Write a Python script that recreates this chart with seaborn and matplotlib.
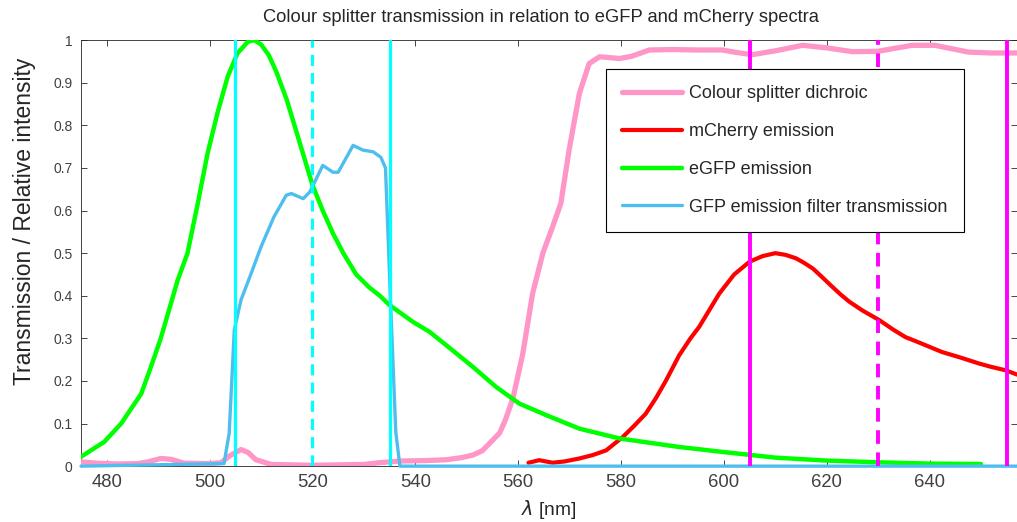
import matplotlib
matplotlib.use("Agg")
import matplotlib.pyplot as plt
import seaborn as sns
import pandas as pd
from matplotlib.ticker import FormatStrFormatter

# ---------------- data ----------------
dichroic_wl = [475, 478, 482, 486, 488, 490.5, 492.5, 495, 500, 502.2, 504, 506.1, 507.5, 509, 512, 520, 530,
               533, 537, 542, 546, 549, 551.2, 553, 554.4, 556.4, 557.5, 559, 560.9, 562.8, 564.8, 566.7, 568.3,
               569.9, 571.9, 573.8, 575.8, 577, 579.7, 582, 585.5, 590, 595, 599.7, 602, 605.5, 610, 615.3, 620,
               625, 630, 636.6, 641, 647.6, 652, 657]
dichroic_t = [0.01, 0.007, 0.005, 0.006, 0.01, 0.018, 0.016, 0.007, 0.006, 0.008, 0.025, 0.039, 0.032, 0.015,
              0.004, 0.002, 0.004, 0.008, 0.012, 0.013, 0.015, 0.02, 0.026, 0.036, 0.053, 0.078, 0.108, 0.16,
              0.264, 0.405, 0.50, 0.562, 0.617, 0.742, 0.875, 0.945, 0.961, 0.96, 0.957, 0.962, 0.977, 0.978,
              0.977, 0.977, 0.972, 0.966, 0.975, 0.988, 0.982, 0.973, 0.974, 0.988, 0.988, 0.972, 0.970, 0.970]

mcherry_wl = [562, 564.1, 566.7, 569, 571.9, 574.5, 577.1, 580.3, 582.5, 584.8, 586.8, 588.7, 591.3, 593.5, 595.2,
              597.2, 599.1, 602, 605, 607.5, 610, 612, 614, 615.5, 617.3, 619, 621, 622.7, 624.4, 627, 630.2, 633,
              635.3, 638, 642.4, 646, 649.6, 652, 654.8, 657]
mcherry_em = [0.008, 0.014, 0.008, 0.011, 0.018, 0.026, 0.037, 0.068, 0.094, 0.123, 0.16, 0.20, 0.26, 0.30,
              0.327, 0.367, 0.405, 0.45, 0.48, 0.493, 0.50, 0.496, 0.488, 0.478, 0.464, 0.445, 0.422, 0.403, 0.386,
              0.365, 0.343, 0.32, 0.303, 0.29, 0.268, 0.255, 0.241, 0.233, 0.225, 0.215]

egfp_wl = [475, 479.5, 482.8, 486.7, 488.5, 490.5, 493.8, 495.7, 497.7, 499.6, 501.5, 503.5, 505.4, 507.4, 508.7,
           510, 511.5, 513, 515, 517.5, 520, 522, 524, 526, 528.5, 531, 533.1, 535, 539.5, 542.8, 546, 551.2,
           555.7, 560.2, 565.4, 571.9, 579.7, 591.3, 600, 610, 620, 630, 640, 650]
egfp_em = [0.022, 0.057, 0.10, 0.17, 0.23, 0.30, 0.437, 0.50, 0.617, 0.734, 0.828, 0.914, 0.969, 0.996, 1.0,
           0.99, 0.965, 0.925, 0.86, 0.76, 0.66, 0.60, 0.546, 0.50, 0.45, 0.42, 0.40, 0.378, 0.339, 0.315, 0.284,
           0.233, 0.186, 0.147, 0.12, 0.088, 0.065, 0.045, 0.033, 0.02, 0.013, 0.009, 0.006, 0.005]

filter_wl = [475, 502.8, 503.8, 504.8, 506.1, 508, 510, 512.5, 514.9, 515.9, 518.2, 519.5, 522.0, 524.0, 525,
             527.9, 529.8, 531.8, 533.3, 534.2, 535.3, 536.2, 537, 657]
filter_t = [0, 0.006, 0.077, 0.32, 0.39, 0.45, 0.515, 0.585, 0.636, 0.64, 0.628, 0.644, 0.706, 0.69, 0.69, 0.753,
            0.742, 0.738, 0.725, 0.70, 0.35, 0.08, 0.0, 0.0]

gfp_band_solid = [505, 535]
gfp_band_centre = [520]
mch_band_solid = [605, 655]
mch_band_centre = [630]

series_labels = ["Colour splitter dichroic", "mCherry emission", "eGFP emission",
                 "GFP emission filter transmission"]
x_ticks = [480, 500, 520, 540, 560, 580, 600, 620, 640]
y_ticks = [0, 0.1, 0.2, 0.3, 0.4, 0.5, 0.6, 0.7, 0.8, 0.9, 1]

# ---------------- style ----------------
sns.set_theme(style="ticks")
plt.rcParams["font.family"] = ["Liberation Sans", "DejaVu Sans"]
plt.rcParams["xtick.direction"] = "in"
plt.rcParams["ytick.direction"] = "in"

fig = plt.figure(figsize=(10.17, 5.22), dpi=100)
ax = fig.add_axes([0.0797, 0.107, 0.9203, 0.816])

colors = ["#ff96c8", "#ff0000", "#00ff00", "#4dbeee"]
widths = [3.8, 3.0, 3.2, 2.4]
data = [(dichroic_wl, dichroic_t), (mcherry_wl, mcherry_em), (egfp_wl, egfp_em), (filter_wl, filter_t)]
for i, ((wl, val), lab, c, w) in enumerate(zip(data, series_labels, colors, widths)):
    df = pd.DataFrame({"wl": wl, "v": val})
    sns.lineplot(data=df, x="wl", y="v", ax=ax, color=c, linewidth=w, label=lab,
                 sort=False, estimator=None, zorder=2.6)
ax.lines[-1].set_clip_on(False)

for xv in gfp_band_solid:
    ax.axvline(xv, color="#00ffff", linewidth=2.3, zorder=2.7)
for xv in gfp_band_centre:
    ax.axvline(xv, color="#00ffff", linewidth=2.3, linestyle=(0, (3.5, 2.2)), zorder=2.7)
for xv in mch_band_solid:
    ax.axvline(xv, color="#ff00ff", linewidth=2.8, zorder=2.7)
for xv in mch_band_centre:
    ax.axvline(xv, color="#ff00ff", linewidth=2.8, linestyle=(0, (3.5, 2.2)), zorder=2.7)

ax.set_xlim(475, 657)
ax.set_ylim(0, 1)
ax.set_xticks(x_ticks)
ax.set_yticks(y_ticks)
ax.yaxis.set_major_formatter(FormatStrFormatter("%g"))
ax.tick_params(axis="both", which="both", direction="in", length=4, width=0.6, color="#262626",
               top=True, right=True, labelcolor="#404040")
ax.tick_params(axis="x", labelsize=13.3, pad=6)
ax.tick_params(axis="y", labelsize=10, pad=6)
for s in ax.spines.values():
    s.set_color("#262626")
    s.set_linewidth(0.6)
    s.set_visible(True)

ax.set_xlabel(r"$\lambda$ [nm]", fontsize=13.8, labelpad=5)
ax.set_ylabel("Transmission / Relative intensity", fontsize=16.5)
ax.yaxis.set_label_coords(-0.0485, 0.575)
ax.set_title("Colour splitter transmission in relation to eGFP and mCherry spectra", fontsize=13.2,
             pad=13.3, x=0.4915)

leg = ax.legend(loc="upper right", bbox_to_anchor=(0.943, 0.932), fontsize=13, frameon=True,
                fancybox=False, framealpha=1, edgecolor="black", handlelength=3.3, handletextpad=0.4,
                labelspacing=1.15, borderpad=0.9, borderaxespad=0)
leg.get_frame().set_linewidth(0.8)
leg.set_zorder(5)

fig.savefig("out.png", dpi=100)
